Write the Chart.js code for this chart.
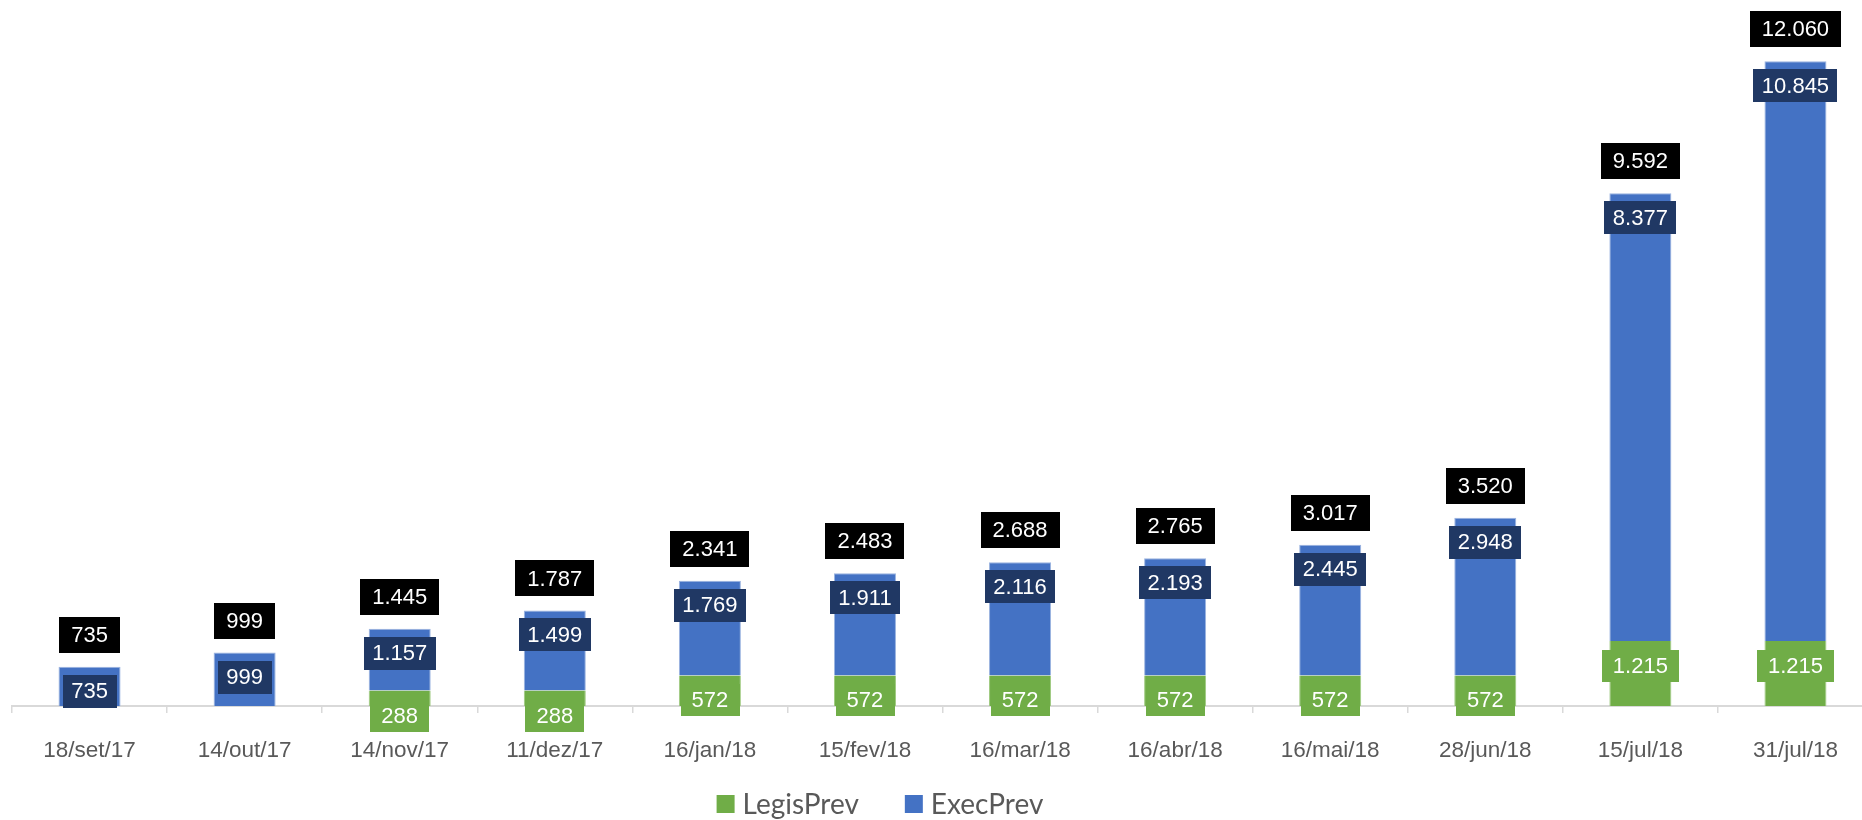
<!DOCTYPE html>
<html>
<head>
<meta charset="utf-8">
<script src="https://cdn.jsdelivr.net/npm/chart.js@4.4.1/dist/chart.umd.min.js"></script>
<style>
  html, body { margin: 0; padding: 0; background: #ffffff; overflow: hidden; }
  #wrap { width: 1880px; height: 820px; position: relative; }
</style>
</head>
<body>
<div id="wrap"><canvas id="c"></canvas></div>
<script>
// ---- data ----
const categories = ['18/set/17','14/out/17','14/nov/17','11/dez/17','16/jan/18','15/fev/18','16/mar/18','16/abr/18','16/mai/18','28/jun/18','15/jul/18','31/jul/18'];
const legisPrev = [0, 0, 288, 288, 572, 572, 572, 572, 572, 572, 1215, 1215];
const execPrev  = [735, 999, 1157, 1499, 1769, 1911, 2116, 2193, 2445, 2948, 8377, 10845];
const totals    = [735, 999, 1445, 1787, 2341, 2483, 2688, 2765, 3017, 3520, 9592, 12060];
const seriesNames = ['LegisPrev', 'ExecPrev'];

// ---- styles ----
const GREEN = '#70AD47', BLUE = '#4472C4', NAVY = '#203864';
const LABEL_FONT = '22px "Liberation Sans", Arial, sans-serif';
const LEGEND_FONT = '28px Lato, "Open Sans", sans-serif';

function fmt(v) { return String(v).replace(/\B(?=(\d{3})+(?!\d))/g, '.'); }

function box(ctx, text, cx, top, padX, h, bg) {
  const w = ctx.measureText(text).width + padX * 2;
  ctx.fillStyle = bg;
  ctx.fillRect(Math.round(cx - w / 2), Math.round(top), Math.round(w), h);
  ctx.fillStyle = '#ffffff';
  ctx.fillText(text, cx, top + h / 2 + 1);
}

const labelPlugin = {
  id: 'boxLabels',
  afterDatasetsDraw(chart) {
    const ctx = chart.ctx;
    const mG = chart.getDatasetMeta(0), mB = chart.getDatasetMeta(1);
    ctx.save();
    ctx.font = LABEL_FONT;
    ctx.textAlign = 'center';
    ctx.textBaseline = 'middle';
    for (let i = 0; i < categories.length; i++) {
      const b = mB.data[i];
      // ExecPrev label (inside end)
      box(ctx, fmt(execPrev[i]), b.x, b.y + 8, 8.5, 33, NAVY);
      // total label (above bar)
      box(ctx, fmt(totals[i]), b.x, b.y - 14 - 36, 12, 36, '#000000');
      // LegisPrev label (inside end)
      if (legisPrev[i] > 0) {
        const g = mG.data[i];
        box(ctx, fmt(legisPrev[i]), g.x, g.y + 9, 11, 32, GREEN);
      }
    }
    ctx.restore();
  }
};

const legendPlugin = {
  id: 'customLegend',
  afterDraw(chart) {
    const ctx = chart.ctx;
    ctx.save();
    ctx.font = LEGEND_FONT;
    ctx.textBaseline = 'middle';
    ctx.textAlign = 'left';
    const colors = [GREEN, BLUE];
    const sq = 18, gap = 8, itemGap = 46;
    const widths = seriesNames.map(n => sq + gap + ctx.measureText(n).width);
    const total = widths.reduce((a, b) => a + b, 0) + itemGap;
    let x = 880 - total / 2;
    const cy = 804;
    seriesNames.forEach((n, k) => {
      ctx.fillStyle = colors[k];
      ctx.fillRect(x, cy - sq / 2, sq, sq);
      ctx.fillStyle = '#595959';
      ctx.fillText(n, x + sq + gap, cy + 1);
      x += widths[k] + itemGap;
    });
    ctx.restore();
  }
};

new Chart(document.getElementById('c'), {
  type: 'bar',
  data: {
    labels: categories,
    datasets: [
      { label: seriesNames[0], data: legisPrev, backgroundColor: GREEN, borderColor: '#9fca80', borderWidth: { left: 1, right: 1, top: 0, bottom: 0 } },
      { label: seriesNames[1], data: execPrev,  backgroundColor: BLUE,  borderColor: '#9bb4e0', borderWidth: { left: 1, right: 1, top: 1, bottom: 0 } }
    ]
  },
  options: {
    responsive: true,
    maintainAspectRatio: false,
    animation: false,
    devicePixelRatio: 1,
    layout: { padding: { left: 12, right: 7, top: 11, bottom: 0 } },
    datasets: { bar: { categoryPercentage: 0.4, barPercentage: 1.0 } },
    plugins: { legend: { display: false }, tooltip: { enabled: false } },
    scales: {
      x: {
        stacked: true,
        afterFit(scale) { scale.height = 114; },
        grid: { offset: true, drawOnChartArea: false, drawTicks: true, tickLength: 7, color: '#d9d9d9', lineWidth: 1.5 },
        border: { display: true, color: '#d9d9d9', width: 2 },
        ticks: { color: '#595959', font: { family: '"Liberation Sans", Arial, sans-serif', size: 22.5 }, padding: 24, maxRotation: 0, autoSkip: false }
      },
      y: {
        stacked: true,
        display: false,
        min: 0,
        max: 13000
      }
    }
  },
  plugins: [labelPlugin, legendPlugin]
});
</script>
</body>
</html>
